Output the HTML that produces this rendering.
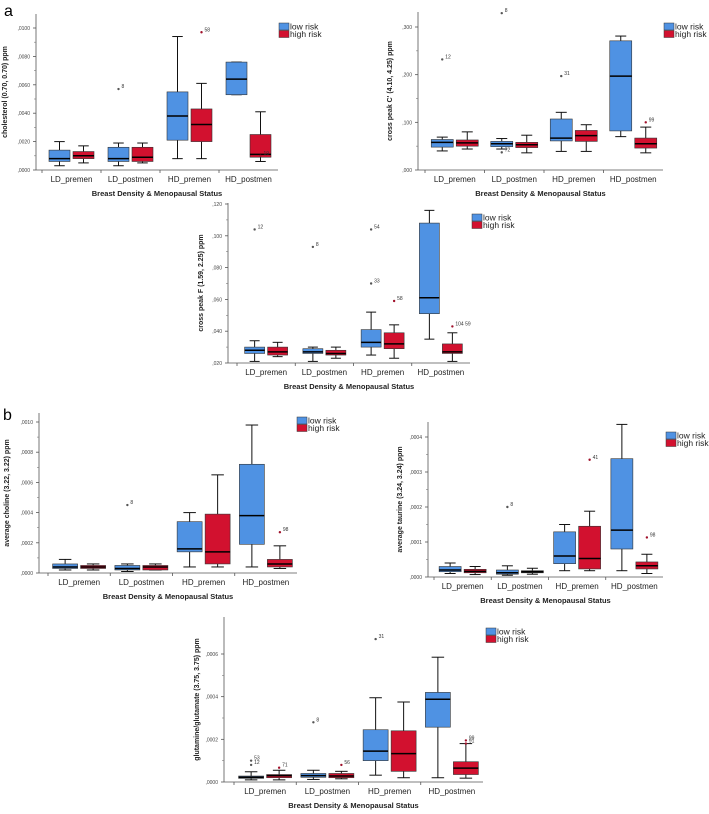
<!DOCTYPE html>
<html><head><meta charset="utf-8">
<style>
html,body{margin:0;padding:0;background:#fff;}
svg{display:block;font-family:"Liberation Sans",sans-serif;}
</style></head>
<body>
<svg id="fig" width="709" height="814" viewBox="0 0 709 814" xmlns="http://www.w3.org/2000/svg">
<text x="4" y="16" font-size="16">a</text>
<text x="3" y="420" font-size="16">b</text>
</svg>
<script>
const categories = ["LD_premen","LD_postmen","HD_premen","HD_postmen"];
// [min,q1,median,q3,max] per category
const cholLow  = [[0.0003,0.0006,0.0008,0.0014,0.0020],[0.0003,0.0006,0.0008,0.0016,0.0019],[0.0008,0.0021,0.0038,0.0055,0.0094],[0.0053,0.0053,0.0064,0.0076,0.0076]];
const cholHigh = [[0.0005,0.0008,0.0010,0.0013,0.0017],[0.0005,0.0006,0.0009,0.0016,0.0019],[0.0008,0.0020,0.0032,0.0043,0.0061],[0.0006,0.0009,0.0011,0.0025,0.0041]];
const cholOut  = [[1,0,0.0057,"8"],[2,1,0.0097,"58"],[3,1,0.0010,"19"]];
const cholTicks = [0,0.002,0.004,0.006,0.008,0.010];
const cholTickLabels = [",0000",",0020",",0040",",0060",",0080",",0100"];

const cgLow  = [[0.040,0.048,0.058,0.064,0.069],[0.044,0.049,0.055,0.060,0.066],[0.039,0.061,0.067,0.107,0.121],[0.070,0.082,0.197,0.271,0.281]];
const cgHigh = [[0.044,0.050,0.057,0.063,0.080],[0.036,0.047,0.053,0.058,0.073],[0.039,0.060,0.072,0.083,0.095],[0.036,0.046,0.055,0.067,0.090]];
const cgOut  = [[0,0,0.232,"12"],[1,0,0.037,"72"],[1,0,0.329,"8"],[2,0,0.197,"31"],[3,1,0.100,"99"]];
const cgTicks = [0,0.1,0.2,0.3];
const cgTickLabels = [",000",",100",",200",",300"];

const fLow  = [[0.021,0.026,0.028,0.030,0.034],[0.021,0.026,0.027,0.029,0.030],[0.025,0.030,0.033,0.041,0.052],[0.035,0.051,0.061,0.108,0.116]];
const fHigh = [[0.024,0.025,0.027,0.030,0.033],[0.023,0.025,0.026,0.028,0.030],[0.023,0.029,0.032,0.039,0.044],[0.021,0.026,0.027,0.032,0.039]];
const fOut  = [[0,0,0.104,"12"],[1,0,0.093,"8"],[2,0,0.070,"33"],[2,0,0.104,"54"],[2,1,0.059,"58"],[3,1,0.043,"104  59"]];
const fTicks = [0.02,0.04,0.06,0.08,0.10,0.12];
const fTickLabels = [",020",",040",",060",",080",",100",",120"];

const chLow  = [[0.00002,0.00003,0.00004,0.00006,0.00009],[0.00001,0.00002,0.00003,0.00005,0.00006],[0.00004,0.00014,0.00016,0.00034,0.00040],[0.00004,0.00019,0.00038,0.00072,0.00098]];
const chHigh = [[0.00002,0.00003,0.00004,0.00005,0.00006],[0.00002,0.00002,0.00004,0.00005,0.00006],[0.00004,0.00006,0.00014,0.00039,0.00065],[0.00003,0.00004,0.00006,0.00009,0.00018]];
const chOut  = [[1,0,0.00045,"8"],[3,1,0.00027,"98"]];
const chTicks = [0,0.0002,0.0004,0.0006,0.0008,0.0010];
const chTickLabels = [",0000",",0002",",0004",",0006",",0008",",0010"];

const tauLow  = [[0.000010,0.000015,0.000020,0.000030,0.000040],[0.000005,0.000008,0.000012,0.000020,0.000032],[0.000018,0.000038,0.000060,0.000129,0.000150],[0.000018,0.000080,0.000134,0.000338,0.000436]];
const tauHigh = [[0.000007,0.000012,0.000016,0.000022,0.000030],[0.000008,0.000012,0.000015,0.000018,0.000025],[0.000018,0.000023,0.000053,0.000145,0.000188],[0.000010,0.000023,0.000032,0.000043,0.000065]];
const tauOut  = [[1,0,0.00020,"8"],[2,1,0.000335,"41"],[3,1,0.000113,"98"]];
const tauTicks = [0,0.0001,0.0002,0.0003,0.0004];
const tauTickLabels = [",0000",",0001",",0002",",0003",",0004"];

const glLow  = [[0.000010,0.000017,0.000022,0.000028,0.000048],[0.000012,0.000022,0.000030,0.000040,0.000055],[0.000032,0.000100,0.000145,0.000245,0.000395],[0.000020,0.000257,0.000388,0.000420,0.000585]];
const glHigh = [[0.000010,0.000020,0.000030,0.000035,0.000055],[0.000015,0.000020,0.000028,0.000040,0.000050],[0.000020,0.000050,0.000133,0.000240,0.000375],[0.000018,0.000035,0.000065,0.000095,0.000180]];
const glOut  = [[0,0,0.000100,"53"],[0,0,0.000080,"12"],[0,1,0.000067,"71"],[1,0,0.00028,"8"],[1,1,0.000080,"56"],[2,0,0.00067,"31"],[3,1,0.000195,"99"],[3,1,0.000180,"91"]];
const glTicks = [0,0.0002,0.0004,0.0006];
const glTickLabels = [",0000",",0002",",0004",",0006"];

const panels = [
 {id:"cholesterol",low:cholLow,high:cholHigh,out:cholOut,ticks:cholTicks,labels:cholTickLabels,title:"cholesterol (0.70, 0.70) ppm",
  ax:36,x0:42,x1:278,yTop:14,yBot:170,vMin:0,vMax:0.010,pxPerRange:142,bw:21,lx:279,ly:23,tx:7},
 {id:"cross-peak-c",low:cgLow,high:cgHigh,out:cgOut,ticks:cgTicks,labels:cgTickLabels,title:"cross peak C' (4.10, 4.25) ppm",
  ax:418,x0:425,x1:663,yTop:12,yBot:170,vMin:0,vMax:0.3,pxPerRange:143,bw:22,lx:664,ly:23,tx:392},
 {id:"cross-peak-f",low:fLow,high:fHigh,out:fOut,ticks:fTicks,labels:fTickLabels,title:"cross peak F (1.59, 2.25) ppm",
  ax:228,x0:237,x1:470,yTop:203,yBot:363,vMin:0.02,vMax:0.12,pxPerRange:159,bw:20,lx:472,ly:214,tx:203},
 {id:"average-choline",low:chLow,high:chHigh,out:chOut,ticks:chTicks,labels:chTickLabels,title:"average choline (3.22, 3.22) ppm",
  ax:39,x0:48,x1:297,yTop:413,yBot:573,vMin:0,vMax:0.0010,pxPerRange:151,bw:25,lx:297,ly:417,tx:9},
 {id:"average-taurine",low:tauLow,high:tauHigh,out:tauOut,ticks:tauTicks,labels:tauTickLabels,title:"average taurine (3.24, 3.24) ppm",
  ax:428,x0:434,x1:663,yTop:422,yBot:577,vMin:0,vMax:0.0004,pxPerRange:140,bw:22,lx:666,ly:432,tx:402},
 {id:"glutamine-glutamate",low:glLow,high:glHigh,out:glOut,ticks:glTicks,labels:glTickLabels,title:"glutamine/glutamate (3.75, 3.75) ppm",
  ax:224,x0:234,x1:483,yTop:617,yBot:782,vMin:0,vMax:0.0006,pxPerRange:128,bw:25,lx:486,ly:628,tx:199}
];
const NS="http://www.w3.org/2000/svg";
const svg=document.getElementById("fig");
function mk(tag,attrs,parent){const e=document.createElementNS(NS,tag);for(const k in attrs)e.setAttribute(k,attrs[k]);(parent||svg).appendChild(e);return e;}
const BLUE="#4f92e3",RED="#d2112f";
panels.forEach(p=>{
  const g=mk("g",{});
  
  
  const y=v=>p.yBot-(v-p.vMin)/(p.vMax-p.vMin)*p.pxPerRange;
  const band=(p.x1-p.x0)/categories.length;
  const cx=i=>p.x0+band*(i+0.5);
  const ya=mk("line",{x1:p.ax,x2:p.ax,y1:p.yTop,y2:p.yBot,stroke:"#555","stroke-width":0.8},g);
  
  
  const xa=mk("line",{x1:p.ax,x2:p.x1,y1:p.yBot,y2:p.yBot,stroke:"#555","stroke-width":0.8},g);
  
  
  p.ticks.forEach((t,i)=>{
    mk("line",{x1:p.ax-3,x2:p.ax,y1:y(t),y2:y(t),stroke:"#555","stroke-width":0.8},g);
    const tl=mk("text",{x:p.ax-6,y:y(t)+2,"font-size":5,"text-anchor":"end",fill:"#444"},g);
    tl.textContent=p.labels[i];
    
    
    if(i<p.ticks.length-1){const m=y((t+p.ticks[i+1])/2);mk("line",{x1:p.ax-2,x2:p.ax,y1:m,y2:m,stroke:"#777","stroke-width":0.6},g);}
  });
  categories.forEach((c,i)=>{
    mk("line",{x1:p.x0+band*i,x2:p.x0+band*i,y1:p.yBot,y2:p.yBot+3,stroke:"#555","stroke-width":0.8},g);
    const cl=mk("text",{x:cx(i),y:p.yBot+12,"font-size":8,"text-anchor":"middle",fill:"#222"},g);
    cl.textContent=c;
    
    
    [[p.low[i],BLUE,-1],[p.high[i],RED,1]].forEach(([d,col,s])=>{
      const bx=cx(i)+s*(p.bw/2+1.5)-p.bw/2;
      const mid=bx+p.bw/2;
      mk("line",{x1:mid,x2:mid,y1:y(d[0]),y2:y(d[1]),stroke:"#111","stroke-width":1},g);
      mk("line",{x1:mid,x2:mid,y1:y(d[3]),y2:y(d[4]),stroke:"#111","stroke-width":1},g);
      mk("line",{x1:mid-p.bw/4,x2:mid+p.bw/4,y1:y(d[0]),y2:y(d[0]),stroke:"#111","stroke-width":1},g);
      mk("line",{x1:mid-p.bw/4,x2:mid+p.bw/4,y1:y(d[4]),y2:y(d[4]),stroke:"#111","stroke-width":1},g);
      const r=mk("rect",{x:bx,y:y(d[3]),width:p.bw,height:Math.max(1,y(d[1])-y(d[3])),fill:col,stroke:"#333","stroke-width":0.6},g);
      
      
      mk("line",{x1:bx,x2:bx+p.bw,y1:y(d[2]),y2:y(d[2]),stroke:"#000","stroke-width":1.5},g);
    });
  });
  p.out.forEach(o=>{
    const s=o[1]===0?-1:1;
    const px=cx(o[0])+s*(p.bw/2+1.5);
    const dot=mk("circle",{cx:px,cy:y(o[2]),r:1.2,fill:o[1]===0?"#555":"#a0102a"},g);
    
    
    const t=mk("text",{x:px+3,y:y(o[2])-1,"font-size":5,fill:"#333"},g);
    t.textContent=o[3];
  });
  const xt=mk("text",{x:(p.ax+p.x1)/2,y:p.yBot+26,"font-size":7.5,"font-weight":"bold","text-anchor":"middle",fill:"#222"},g);
  xt.textContent="Breast Density & Menopausal Status";
  
  
  const ym=(p.yTop+p.yBot)/2;
  const yt=mk("text",{x:p.tx,y:ym,"font-size":7,"font-weight":"bold","text-anchor":"middle",fill:"#222",transform:`rotate(-90 ${p.tx} ${ym})`},g);
  yt.textContent=p.title;
  
  
  [["low risk",BLUE],["high risk",RED]].forEach(([lab,col],k)=>{
    const lg=mk("g",{},g);
    
    
    mk("rect",{x:p.lx,y:p.ly+k*7.5,width:10,height:7,fill:col,stroke:"#333","stroke-width":0.5},lg);
    const t=mk("text",{x:p.lx+11,y:p.ly+k*7.5+6.5,"font-size":8.5,fill:"#222"},lg);
    t.textContent=lab;
  });
});
</script>
</body></html>
